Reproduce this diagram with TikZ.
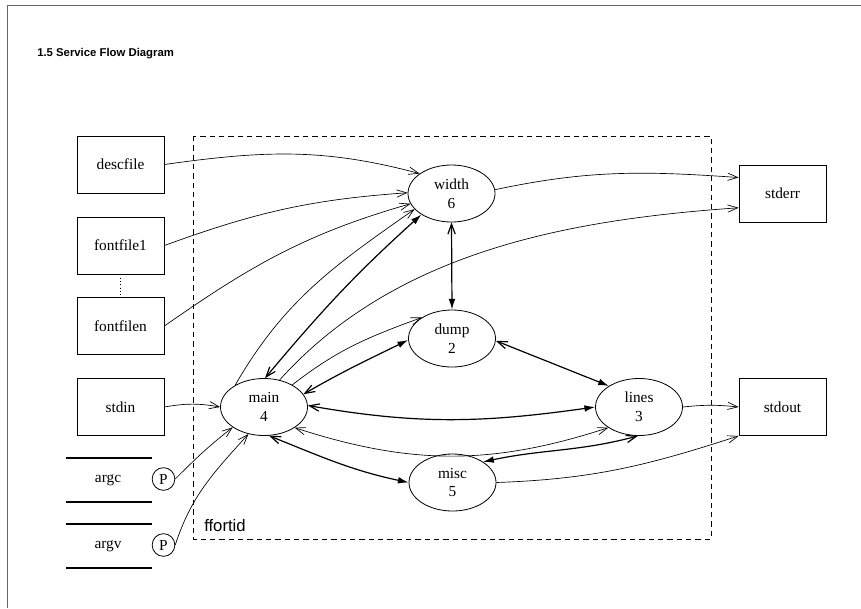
\documentclass[tikz,border=0pt]{standalone}
\usepackage{fontspec}
\setmainfont{Liberation Serif}
\setsansfont{Liberation Sans}
\usetikzlibrary{arrows.meta,shapes.geometric}

\tikzset{
  vtip/.tip={Straight Barb[length=7.5pt,width=5.5pt]},
  ftip/.tip={Latex[length=8pt,width=5pt]},
  lbl/.style={font=\fontsize{11.5}{14}\selectfont},
  filebox/.style={draw,line width=0.6pt,minimum width=65.25pt,minimum height=42.75pt,inner sep=0pt,lbl},
  proc/.style={draw,ellipse,line width=0.6pt,minimum width=65.25pt,minimum height=42.75pt,inner sep=0pt,align=center,lbl},
  pmark/.style={draw,circle,line width=0.6pt,minimum size=17pt,inner sep=0pt,lbl},
  flow/.style={line width=0.5pt,-vtip},
  pair/.style={line width=0.9pt,vtip-ftip},
  rule/.style={line width=0.8pt},
}

\begin{document}
\begin{tikzpicture}[x=0.75pt,y=0.75pt]
\useasboundingbox (0,0) rectangle (861,-608);

% page frame
\draw[black!60,line width=1.3pt] (7.5,-608) -- (7.5,-5.5) -- (861,-5.5);

% heading
\node[anchor=base west,inner sep=0pt,font=\sffamily\bfseries\fontsize{8.5}{10}\selectfont] (title) at (37,-56) {1.5 Service Flow Diagram};

% process boundary
\draw[line width=0.6pt,dash pattern=on 4pt off 3pt] (193,-136) rectangle (711,-539);
\node[anchor=base west,inner sep=0pt,font=\sffamily\fontsize{12.5}{14}\selectfont] (bound) at (204,-531) {ffortid};

% external files
\node[filebox] (descfile)  at (120.5,-164.5) {descfile};
\node[filebox] (fontfile1) at (120.5,-245.5) {fontfile1};
\node[filebox] (fontfilen) at (120.5,-326)   {fontfilen};
\node[filebox] (stdin)     at (120.5,-407)   {stdin};
\node[filebox] (stderr)    at (782.5,-193.5) {stderr};
\node[filebox] (stdout)    at (782.5,-407)   {stdout};
\draw[line width=0.5pt,dotted] (fontfile1.south) -- (fontfilen.north);

% parameters
\draw[rule] (66,-458) -- (152,-458);
\draw[rule] (66,-502) -- (152,-502);
\draw[rule] (66,-524) -- (152,-524);
\draw[rule] (66,-568) -- (152,-568);
\node[lbl] (argc) at (108,-480) {argc};
\node[lbl] (argv) at (108,-546) {argv};
\node[pmark] (pc) at (163.5,-479) {P};
\node[pmark] (pv) at (163.5,-545) {P};

% processes
\node[proc] (width) at (451.5,-193.5) {width\\6};
\node[proc] (dump)  at (452,-338.5)   {dump\\2};
\node[proc] (main)  at (264,-407)     {main\\4};
\node[proc] (lines) at (639,-407)     {lines\\3};
\node[proc] (misc)  at (452.5,-482.5) {misc\\5};

% inputs
\draw[flow] (descfile.east)  to[out=8,in=165]  (width.148);
\draw[flow] (fontfile1.east) to[out=20,in=184] (width.179);
\draw[flow] (fontfilen.east) to[out=35,in=196] (width.194);
\draw[flow] (stdin.east) to[bend left=10] (main.west);
\draw[flow] (pc.east) to[out=45,in=218] (main.213);
\draw[flow] (pv.east) to[out=72,in=228] (main.240);

% main and its neighbours
\draw[flow] (main.143) to[out=60,in=215] (width.203);
\draw[pair] (main.88) to[out=50,in=222] (width.215);
\draw[flow] (main.60) to[out=48,in=184,looseness=0.9] (stderr.198);
\draw[flow] (main.38) to[out=38,in=200] (dump.145);
\draw[pair] (main.18) to[out=30,in=206] (dump.182);
\draw[pair] (main.2) to[out=-10,in=188] (lines.180);
\draw[line width=0.5pt,vtip-vtip] (main.326) to[out=-18,in=198] (lines.214);
\draw[pair] (main.280) to[out=-22,in=168] (misc.180);

% remaining flows
\draw[pair] (width.270) -- (dump.90);
\draw[line width=0.9pt,vtip-ftip] (dump.357) -- (lines.145);
\draw[line width=0.9pt,vtip-ftip] (lines.268) to[out=195,in=12] (misc.34);
\draw[flow] (width.5) to[out=12,in=176] (stderr.160);
\draw[flow] (lines.east) to[bend left=6] (stdout.west);
\draw[flow] (misc.east) to[out=2,in=198] (stdout.south west);
\end{tikzpicture}
\end{document}
